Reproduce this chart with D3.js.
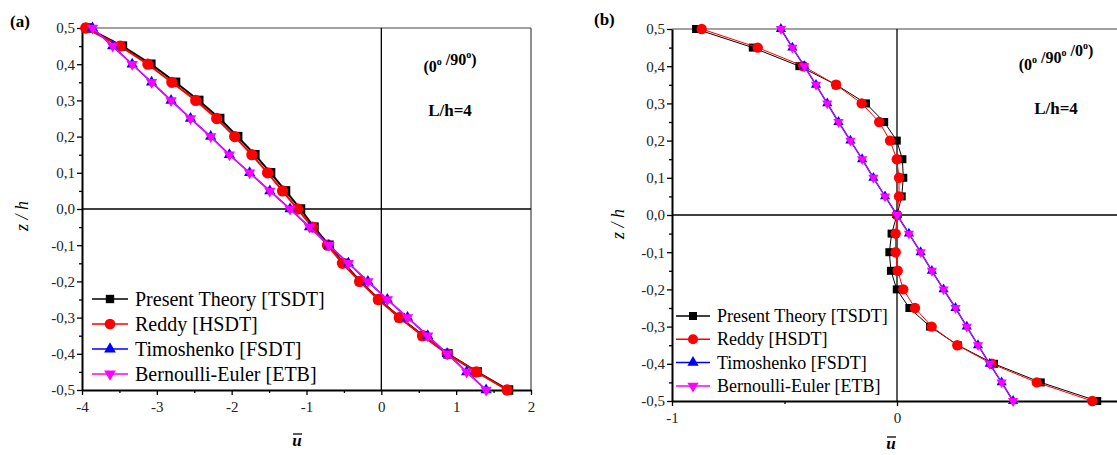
<!DOCTYPE html>
<html>
<head>
<meta charset="utf-8">
<script src="https://cdn.jsdelivr.net/npm/d3@7"></script>
<style>
  body { margin: 0; background: #fff; }
  svg { display: block; font-family: "Liberation Serif", "Times New Roman", serif; }
</style>
</head>
<body>
<script>
// thickness coordinate z/h (same for every series)
var zVals = [0.5, 0.45, 0.4, 0.35, 0.3, 0.25, 0.2, 0.15, 0.1, 0.05, 0,
             -0.05, -0.1, -0.15, -0.2, -0.25, -0.3, -0.35, -0.4, -0.45, -0.5];

// panel (a) (0/90), L/h=4
var tsdtA = [-3.93, -3.46, -3.08, -2.75, -2.44, -2.16, -1.92, -1.69, -1.48, -1.28, -1.08,
             -0.90, -0.70, -0.50, -0.28, -0.03, 0.25, 0.56, 0.89, 1.28, 1.70];
var hsdtA = [-3.95, -3.49, -3.12, -2.80, -2.48, -2.20, -1.96, -1.73, -1.52, -1.32, -1.12,
             -0.92, -0.72, -0.52, -0.29, -0.04, 0.24, 0.55, 0.88, 1.27, 1.68];
var fsdtA = [-3.86, -3.59, -3.33, -3.07, -2.81, -2.55, -2.28, -2.03, -1.76, -1.49, -1.22,
             -0.96, -0.70, -0.44, -0.18, 0.08, 0.35, 0.62, 0.88, 1.14, 1.40];
var etbA  = [-3.86, -3.59, -3.33, -3.07, -2.81, -2.55, -2.28, -2.03, -1.76, -1.49, -1.22,
             -0.96, -0.70, -0.44, -0.18, 0.08, 0.35, 0.62, 0.88, 1.14, 1.40];

// panel (b) (0/90/0), L/h=4
var tsdtB = [-0.893, -0.641, -0.434, -0.270, -0.138, -0.057, -0.001, 0.024, 0.028, 0.021, 0,
             -0.024, -0.034, -0.027, -0.001, 0.055, 0.147, 0.270, 0.431, 0.639, 0.890];
var hsdtB = [-0.868, -0.619, -0.416, -0.271, -0.157, -0.079, -0.031, -0.001, 0.009, 0.009, 0,
             -0.006, -0.006, 0.003, 0.028, 0.080, 0.154, 0.268, 0.421, 0.621, 0.868];
var fsdtB = [-0.516, -0.465, -0.412, -0.360, -0.310, -0.260, -0.207, -0.155, -0.105, -0.053, 0,
             0.053, 0.105, 0.155, 0.207, 0.260, 0.310, 0.360, 0.412, 0.465, 0.516];
var etbB  = [-0.516, -0.465, -0.412, -0.360, -0.310, -0.260, -0.207, -0.155, -0.105, -0.053, 0,
             0.053, 0.105, 0.155, 0.207, 0.260, 0.310, 0.360, 0.412, 0.465, 0.516];

// tick labels
var yTicks = [-0.5, -0.4, -0.3, -0.2, -0.1, 0, 0.1, 0.2, 0.3, 0.4, 0.5];
var yMinor = [-0.45, -0.35, -0.25, -0.15, -0.05, 0.05, 0.15, 0.25, 0.35, 0.45];
var xTicksA = [-4, -3, -2, -1, 0, 1, 2];
var xMinorA = [-3.5, -2.5, -1.5, -0.5, 0.5, 1.5];
var xTicksB = [-1, 0];          // the "1" tick falls just outside the picture
var xMinorB = [-0.5, 0.5];

var seriesNames = ["Present Theory [TSDT]", "Reddy [HSDT]", "Timoshenko [FSDT]", "Bernoulli-Euler [ETB]"];
var seriesColors = ["#000000", "#ff0000", "#0000ff", "#ff00ff"];

var W = 1117, H = 455;

var svg = d3.select("body").append("svg")
    .attr("width", W)
    .attr("height", H);

svg.append("rect").attr("width", W).attr("height", H).attr("fill", "#fff");

// comma decimal, plain hyphen minus
var loc = d3.formatLocale({ decimal: ",", thousands: ".", grouping: [3], currency: ["", ""], minus: "-" });
var fmtY = loc.format(".1f");
var fmtX = loc.format("d");

function drawPanel(p) {
    var x = d3.scaleLinear().domain(p.xDomain).range([p.left, p.right]);
    var y = d3.scaleLinear().domain([-0.5, 0.5]).range([p.bottom, p.top]);
    var g = svg.append("g");

    // top / right frame
    g.append("line").attr("x1", p.left).attr("x2", p.right).attr("y1", p.top).attr("y2", p.top)
        .attr("stroke", "#444").attr("stroke-width", 1.2);
    g.append("line").attr("x1", p.right).attr("x2", p.right).attr("y1", p.top).attr("y2", p.bottom)
        .attr("stroke", "#444").attr("stroke-width", 1.2);

    // zero lines
    g.append("line").attr("x1", p.left).attr("x2", p.right).attr("y1", y(0)).attr("y2", y(0))
        .attr("stroke", "#000").attr("stroke-width", 1.3);
    g.append("line").attr("x1", x(0)).attr("x2", x(0)).attr("y1", p.top).attr("y2", p.bottom)
        .attr("stroke", "#000").attr("stroke-width", 1.3);

    // minor ticks
    g.append("g").attr("transform", "translate(" + p.left + ",0)")
        .call(d3.axisLeft(y).tickValues(yMinor).tickSize(3).tickFormat(""))
        .call(function (a) { a.select(".domain").remove(); a.selectAll("line").attr("stroke-width", 1.3); });
    g.append("g").attr("transform", "translate(0," + p.bottom + ")")
        .call(d3.axisBottom(x).tickValues(p.xMinor).tickSize(3).tickFormat(""))
        .call(function (a) { a.select(".domain").remove(); a.selectAll("line").attr("stroke-width", 1.3); });

    // major axes
    var ya = g.append("g").attr("transform", "translate(" + p.left + ",0)")
        .call(d3.axisLeft(y).tickValues(yTicks).tickSize(5).tickSizeOuter(0).tickPadding(2).tickFormat(fmtY));
    var xa = g.append("g").attr("transform", "translate(0," + p.bottom + ")")
        .call(d3.axisBottom(x).tickValues(p.xTicks).tickSize(5).tickSizeOuter(0).tickPadding(6).tickFormat(fmtX));
    [ya, xa].forEach(function (a) {
        a.attr("font-family", null);
        a.select(".domain").attr("stroke-width", 2);
        a.selectAll("line").attr("stroke-width", 1.3);
        a.selectAll("text").attr("font-size", 15).attr("fill", "#222");
    });

    // series
    var sets = [p.tsdt, p.hsdt, p.fsdt, p.etb];
    var symbols = [d3.symbolSquare, d3.symbolCircle, d3.symbolTriangle, d3.symbolTriangle];
    var line = d3.line().x(function (d) { return x(d[0]); }).y(function (d) { return y(d[1]); });

    sets.forEach(function (vals, k) {
        var pts = vals.map(function (v, i) { return [v, zVals[i]]; });
        g.append("path").attr("d", line(pts))
            .attr("fill", "none").attr("stroke", seriesColors[k])
            .attr("stroke-width", p.lineWidths[k]);
        g.selectAll(null).data(pts).enter().append("path")
            .attr("d", d3.symbol().type(symbols[k]).size(p.symSizes[k]))
            .attr("transform", function (d) {
                return "translate(" + x(d[0]) + "," + y(d[1]) + ")" + (k === 3 ? " rotate(180)" : "");
            })
            .attr("fill", seriesColors[k]);
    });

    // legend
    var lg = g.append("g");
    seriesNames.forEach(function (name, k) {
        var ly = p.legY + k * p.legStep;
        lg.append("line").attr("x1", p.legX).attr("x2", p.legX + p.legLen)
            .attr("y1", ly).attr("y2", ly)
            .attr("stroke", seriesColors[k]).attr("stroke-width", 1.5);
        lg.append("path")
            .attr("d", d3.symbol().type(symbols[k]).size(p.legSym[k]))
            .attr("transform", "translate(" + (p.legX + p.legLen / 2) + "," + ly + ")" + (k === 3 ? " rotate(180)" : ""))
            .attr("fill", seriesColors[k]);
        lg.append("text").attr("x", p.legX + p.legLen + 7).attr("y", ly)
            .attr("dy", "0.33em").attr("font-size", p.legFont).attr("fill", "#000")
            .text(name);
    });

    // annotation
    var an = g.append("text").attr("x", p.annX).attr("y", p.annY)
        .attr("text-anchor", "middle").attr("font-weight", "bold").attr("font-size", 16);
    p.angles.forEach(function (a, i) {
        an.append("tspan").text((i === 0 ? "(" : " /") + a);
        an.append("tspan").attr("font-size", 10).attr("dy", -7).text("o");
        an.append("tspan").attr("dy", 7).text(i === p.angles.length - 1 ? ")" : "");
    });
    g.append("text").attr("x", p.annX).attr("y", p.annY + 44)
        .attr("text-anchor", "middle").attr("font-weight", "bold").attr("font-size", 17)
        .text("L/h=4");

    // panel label
    g.append("text").attr("x", p.tagX).attr("y", p.tagY)
        .attr("font-weight", "bold").attr("font-size", 17).text(p.tag);

    // axis titles
    g.append("text")
        .attr("transform", "translate(" + p.yLabX + "," + p.yLabY + ") rotate(-90)")
        .attr("text-anchor", "middle").attr("font-style", "italic").attr("font-size", 18)
        .attr("xml:space", "preserve")
        .text("z / h");
    g.append("text").attr("x", p.xLabX).attr("y", p.xLabY)
        .attr("text-anchor", "middle").attr("font-style", "italic").attr("font-weight", "bold")
        .attr("font-size", 17).text("u");
    g.append("line").attr("x1", p.xLabX - 4).attr("x2", p.xLabX + 5)
        .attr("y1", p.xLabY - 12).attr("y2", p.xLabY - 12)
        .attr("stroke", "#000").attr("stroke-width", 1.3);
}

drawPanel({
    left: 82, right: 531, top: 28, bottom: 390,
    xDomain: [-4, 2], xTicks: xTicksA, xMinor: xMinorA,
    tsdt: tsdtA, hsdt: hsdtA, fsdt: fsdtA, etb: etbA,
    lineWidths: [2, 2, 1.5, 1.5],
    symSizes: [90, 100, 55, 55],
    legX: 92, legY: 299, legStep: 25, legLen: 36, legFont: 20, legSym: [70, 90, 60, 60],
    angles: ["0", "90"], annX: 450, annY: 72,
    tag: "(a)", tagX: 10, tagY: 27,
    yLabX: 28, yLabY: 216,
    xLabX: 297, xLabY: 446
});

drawPanel({
    left: 672, right: 1122, top: 29, bottom: 401,
    xDomain: [-1, 1], xTicks: xTicksB, xMinor: xMinorB,
    tsdt: tsdtB, hsdt: hsdtB, fsdt: fsdtB, etb: etbB,
    lineWidths: [1, 1, 1.5, 1],
    symSizes: [64, 85, 45, 45],
    legX: 676, legY: 316, legStep: 23.3, legLen: 34, legFont: 18, legSym: [64, 80, 55, 55],
    angles: ["0", "90", "0"], annX: 1056, annY: 70,
    tag: "(b)", tagX: 594, tagY: 25,
    yLabX: 624, yLabY: 224,
    xLabX: 891, xLabY: 449
});
</script>
</body>
</html>
